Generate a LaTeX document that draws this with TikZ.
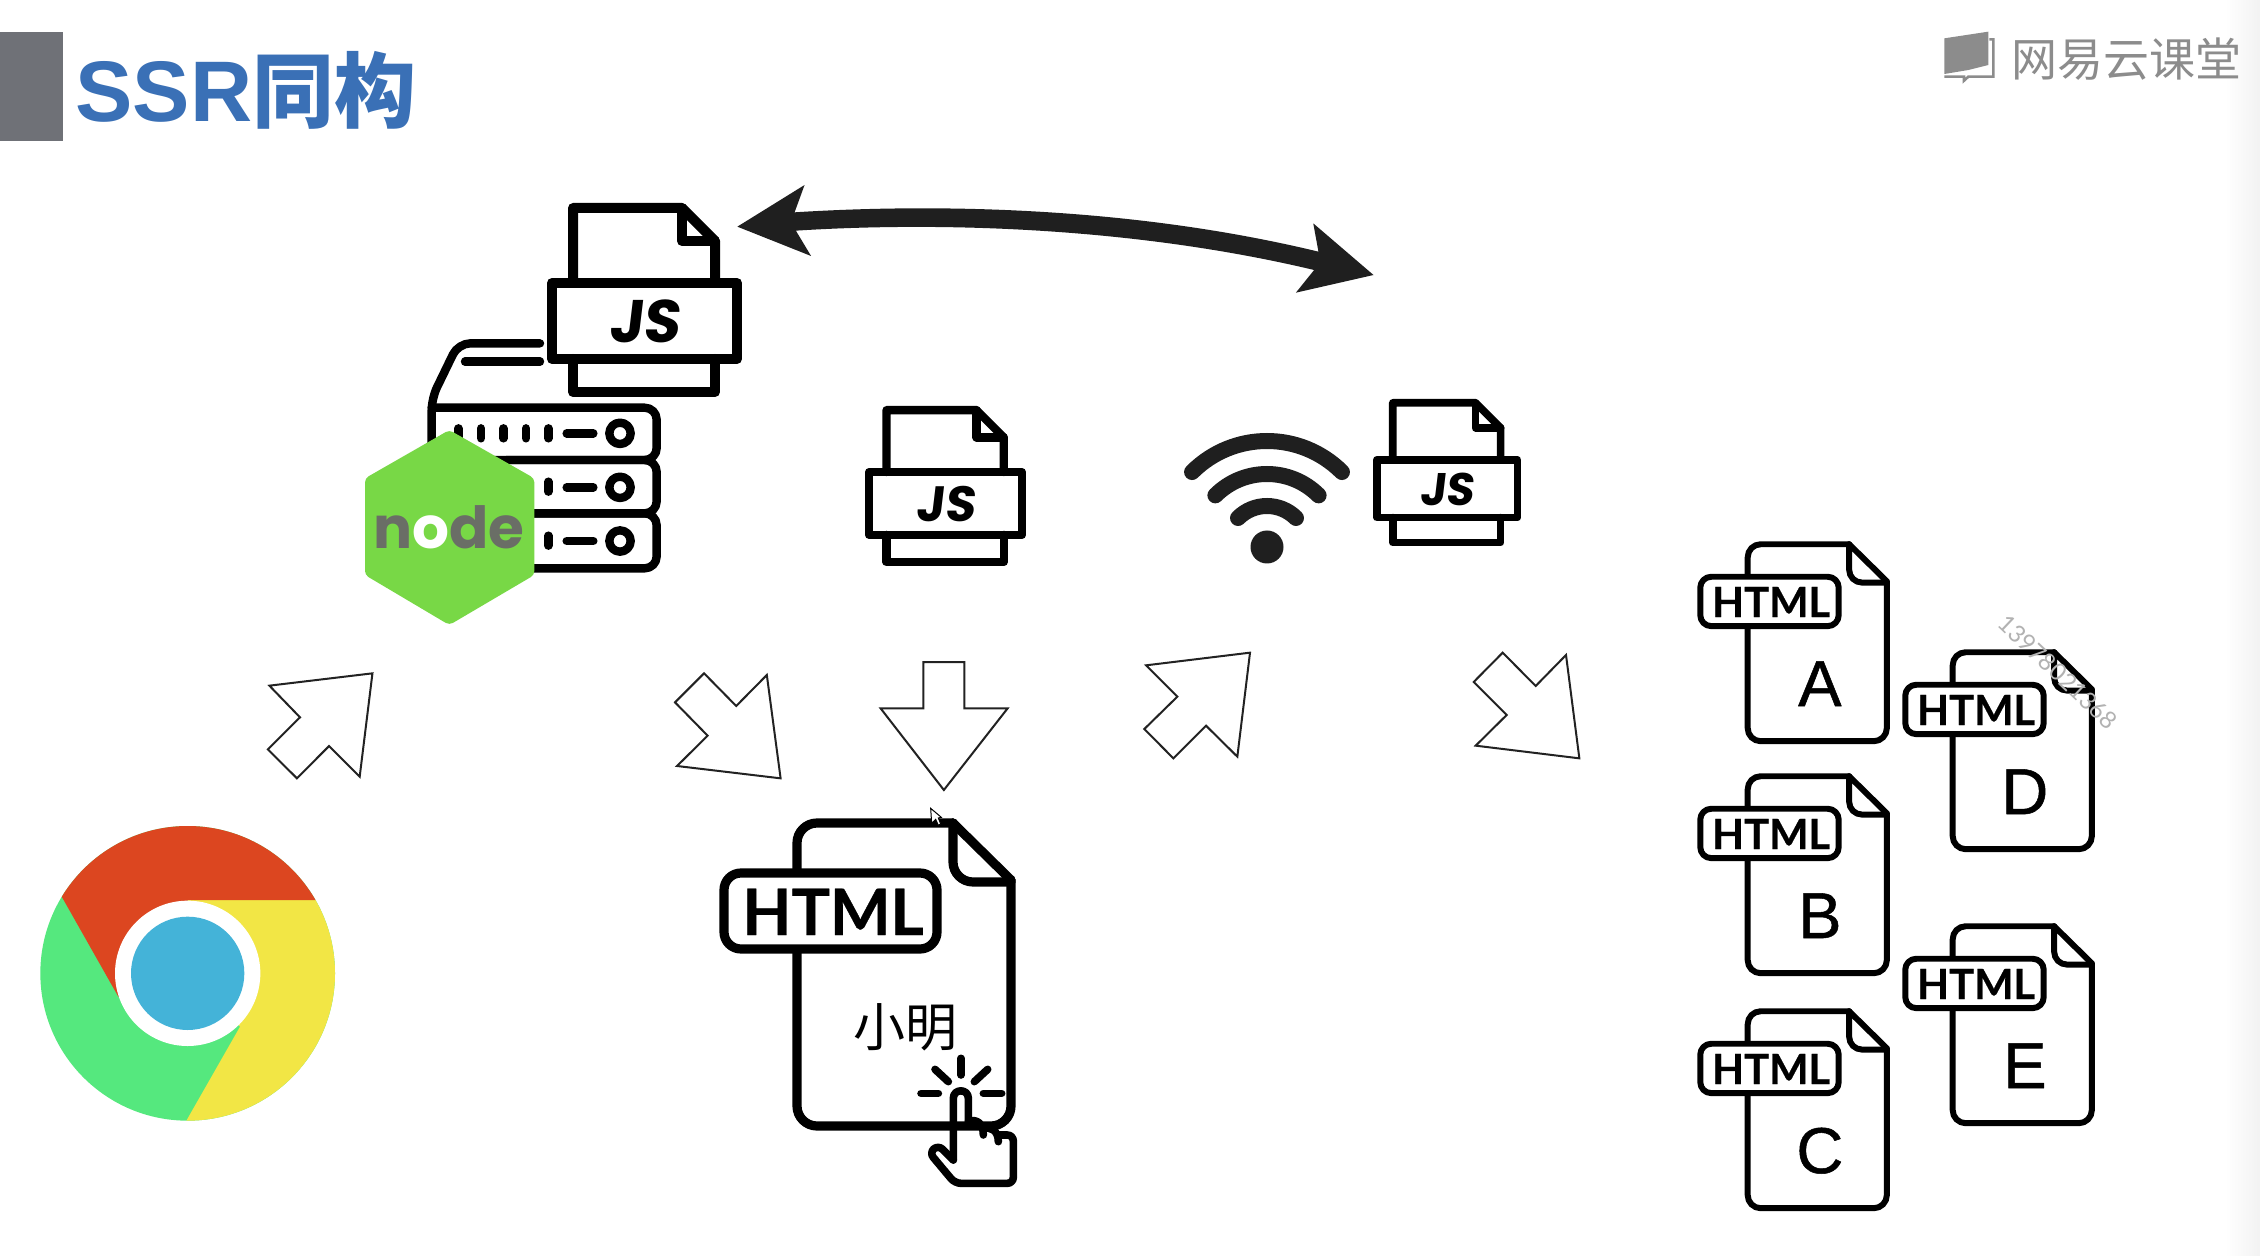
\documentclass[tikz,border=0pt]{standalone}
\usepackage{fontspec}
\setmainfont{Liberation Sans}
\newfontfamily\cjk{Noto Sans CJK SC}
\newfontfamily\lato{Lato}
\newfontfamily\htmlf[BoldFeatures={FakeBold=0.6}]{Lato}
\newfontfamily\letf[FakeBold=0.8]{Liberation Sans}
\newfontfamily\jsf[BoldFeatures={FakeSlant=0.12}]{Poppins}
\newfontfamily\pop{Poppins}
\definecolor{ink}{HTML}{000000}
\definecolor{arrowink}{HTML}{222222}
\definecolor{titleblue}{HTML}{3A70B6}
\definecolor{titlegrey}{HTML}{6F7177}
\definecolor{logogrey}{HTML}{8C8C8C}
\definecolor{nodegreen}{HTML}{78D846}
\definecolor{nodegrey}{HTML}{6A6E66}
\definecolor{chrred}{HTML}{DC4620}
\definecolor{chryel}{HTML}{F2E645}
\definecolor{chrgrn}{HTML}{55E87E}
\definecolor{chrblu}{HTML}{44B3D8}
\tikzset{
  blockarrow/.style={draw=arrowink,line width=1pt,line join=miter,fill=white},
  zoomthree/.style={x=0.16667pt,y=-0.16667pt},
  zoomwide/.style={x=0.2551pt,y=-0.16667pt},
  zoomlong/.style={x=0.21683pt,y=-0.16667pt},
  iconline/.style={line join=round,line cap=round},
}
% JS file icon: local box 195 x 194
\newcommand{\jsicon}[4]{%
\begin{scope}[shift={(#2,#3)},scale=#4,transform shape,iconline,draw=ink,line width=#4*5pt]
  \draw (26,80)--(26,5)--(135,5)--(168,38)--(168,80);
  \draw (135,5)--(135,38)--(168,38);
  \draw (5,80) rectangle (190,156);
  \draw (26,156)--(26,189)--(168,189)--(168,156);
  \node[inner sep=0pt,anchor=base,text=ink] (#1) at (97,140)
    {\fontsize{30}{30}\jsf\bfseries JS};
\end{scope}}
% HTML file icon: local box 297 x 313
\newcommand{\htmlicon}[5]{%
\begin{scope}[shift={(#2,#3)},scale=#4,transform shape,iconline,draw=ink,line width=#4*4.6pt]
  \draw[rounded corners=#4*10pt] (78,60)--(78,5)--(234,5);
  \draw (234,5)--(292,62);
  \draw[rounded corners=#4*10pt] (292,62)--(292,308)--(78,308)--(78,125);
  \draw[rounded corners=#4*10pt] (234,5)--(234,64)--(292,64);
  \draw[fill=white,rounded corners=#4*8.5pt] (5,55) rectangle (218,131);
  \node[inner sep=0pt,anchor=base,text=ink] (#1-tag) at (114,117)
    {\fontsize{32}{32}\htmlf\bfseries HTML};
  \node[inner sep=0pt,anchor=base,text=ink] (#1) at (189,254)
    {\fontsize{50}{50}\letf #5};
\end{scope}}
\begin{document}
\begin{tikzpicture}[x=0.5pt,y=-0.5pt]
\useasboundingbox (0,0) rectangle (2260,1256);
\fill[white] (0,0) rectangle (2260,1256);
\shade[left color=white,right color=black!5] (2225,0) rectangle (2260,1256);

% title
\fill[titlegrey] (0,32) rectangle (63,141);
\node[inner sep=0pt,anchor=base west,text=titleblue] (title) at (75,122)
  {\fontsize{43}{43}\selectfont\bfseries SSR{\fontsize{41}{41}\cjk\bfseries 同构}};

% logo
\begin{scope}[shift={(1900,0)},zoomthree]
  \fill[logogrey] (133,115)--(265,95)--(265,195)--(205,210)--(133,222)--cycle;
  \draw[logogrey,line width=1.3pt] (268,118)--(280,118)--(280,230)--(205,230)--(192,242)--(192,230)--(133,230);
\end{scope}
\node[inner sep=0pt,anchor=west,text=logogrey] (logo) at (2011,59)
  {\fontsize{23}{23}\cjk 网易云课堂};

% double arrow
\begin{scope}[shift={(720,170)},zoomlong]
  \fill[black!88] (40,170)--(195,45)--(172,127) .. controls (500,100) and (950,110) .. (1380,245)
    --(1368,160)--(1507,315)--(1328,368)--(1370,300) .. controls (950,170) and (500,155) .. (175,182)
    --(210,258)--cycle;
\end{scope}

% server
\begin{scope}[shift={(340,180)},zoomthree,iconline,draw=ink,line width=4.2pt]
  \draw[rounded corners=6pt] (600,490)--(355,490)--(275,655)--(275,830);
  \draw (375,545)--(600,545);
  \draw[rounded corners=6pt] (275,683)--(950,683)--(950,840)--(400,840);
  \draw[rounded corners=6pt] (500,840)--(950,840)--(950,1000)--(560,1000);
  \draw[rounded corners=6pt] (560,1000)--(950,1000)--(950,1165)--(560,1165);
  \foreach \bx in {355,423,490,558,625} \draw (\bx,745)--(\bx,775);
  \draw (625,905)--(625,935);
  \draw (625,1067)--(625,1097);
  \foreach \ry in {760,922,1083} {
    \draw (680,\ry)--(760,\ry);
    \draw (840,\ry) circle[radius=32];
  }
  % node hexagon
  \fill[nodegreen,rounded corners=2pt] (328,750)--(583,895)--(583,1185)--(328,1335)--(75,1185)--(75,895)--cycle;
  \node[inner sep=0pt,anchor=base] (nodejs) at (327,1105)
    {\fontsize{29}{29}\pop\bfseries\textcolor{nodegrey}{n}\textcolor{white}{o}\textcolor{nodegrey}{de}};
\end{scope}

\jsicon{jsA}{547}{203}{1}
\jsicon{jsB}{865}{406}{0.826}
\jsicon{jsC}{1373}{399}{0.76}

% wifi
\fill[black!88] (1267,547) circle[radius=16.5] coordinate (wifi);
\foreach \wr in {106,73,41}
  \draw[black!88,line width=8pt,line cap=round] (wifi) ++(225:\wr) arc[start angle=225,end angle=315,radius=\wr];

% block arrows
\begin{scope}[shift={(250,640)},zoomwide]
  \draw[blockarrow] (38,137)--(240,100)--(215,410)--(155,318)--(92,415)--(35,328)--(98,232)--cycle;
  \draw[blockarrow] (890,100)--(953,198)--(1013,105)--(1040,415)--(837,378)--(897,287)--(833,187)--cycle;
  \draw[blockarrow] (1320,66)--(1400,66)--(1400,205)--(1485,205)--(1360,450)--(1236,205)--(1320,205)--cycle;
\end{scope}
\begin{scope}[shift={(1120,630)},zoomthree]
  \draw[blockarrow] (78,106)--(390,68)--(352,380)--(258,287)--(160,385)--(73,297)--(172,200)--cycle;
  \draw[blockarrow] (1148,68)--(1247,168)--(1338,75)--(1378,385)--(1067,347)--(1160,255)--(1061,156)--cycle;
\end{scope}

% chrome
\begin{scope}[shift={(20,800)},zoomthree]
  \begin{scope}
    \clip (503,520) circle[radius=442];
    \fill[chrgrn] (0,0) rectangle (1000,1100);
    \fill[chryel] (503,300)--(1000,300)--(1000,1060)--(446,1055)--(660,680)--(503,520)--cycle;
    \fill[chrred] (128,295)--(60,175)--(60,0)--(1000,0)--(1000,300)--(503,300)--(503,520)--(295,590)--cycle;
  \end{scope}
  \fill[white] (503,520) circle[radius=218];
  \fill[chrblu] (503,520) circle[radius=170];
\end{scope}

% big html
\htmlicon{htmlMain}{719}{818}{1}{}
\node[inner sep=0pt,text=ink] (xiaoming) at (905,1027) {\fontsize{26}{26}\cjk 小明};
\begin{scope}[shift={(690,780)},zoomthree,iconline,draw=ink,line width=3.8pt]
  \draw (813,835)--(813,885);
  \draw (735,868)--(775,905);
  \draw (893,868)--(853,905);
  \draw (693,940)--(745,940);
  \draw (880,940)--(935,940);
  \draw (790,1140)--(790,955) .. controls (790,925) and (835,925) .. (835,955)--(835,1035);
  \draw[rounded corners=3pt] (790,1140)--(745,1095)--(718,1118)--(795,1210)--(970,1210)--(970,1065)--(925,1065);
  \draw (835,1025) .. controls (860,1015) and (880,1030) .. (880,1065);
  \draw (880,1045) .. controls (900,1040) and (925,1050) .. (925,1085);
  % mouse pointer
  \draw[fill=white,line width=0.5pt,line join=miter] (722,85)--(725,130)--(737,118)--(745,136)--(752,132)--(745,114)--(754,112)--cycle;
\end{scope}

% small html
\htmlicon{htmlA}{1697}{541}{0.65}{A}
\htmlicon{htmlB}{1697}{773}{0.65}{B}
\htmlicon{htmlC}{1697}{1008}{0.65}{C}
\htmlicon{htmlD}{1902}{649}{0.65}{D}
\htmlicon{htmlE}{1902}{923}{0.65}{E}

% watermark
\node[inner sep=0pt,rotate=-43.5,text=black!30] (mark) at (2058,672) {\fontsize{12}{12}\lato 13978021368};
\end{tikzpicture}
\end{document}
